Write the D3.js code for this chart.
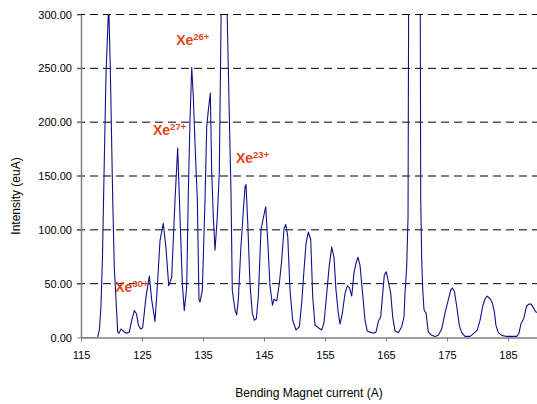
<!DOCTYPE html>
<html>
<head>
<meta charset="utf-8">
<script src="https://cdn.jsdelivr.net/npm/d3@7"></script>
<style>
  body { margin: 0; background: #fff; }
  svg { font-family: "Liberation Sans", Arial, sans-serif; }
</style>
</head>
<body>
<svg width="537" height="404"></svg>
<script>
// magnet current (A) and beam intensity (euA)
const current = [
  115.0, 117.74, 118.03, 118.28, 118.52, 118.77, 119.1, 119.54, 119.8, 120.2,
  120.46, 120.74, 121.02, 121.23, 121.56, 122.1, 122.54, 122.92, 123.28, 123.74,
  124.1, 124.39, 124.75, 125.11, 125.66, 126.2, 126.59, 127.13, 127.54, 127.95,
  128.49, 128.93, 129.38, 129.87, 130.41, 130.85, 131.23, 131.61, 131.93, 132.33,
  132.59, 132.87, 133.15, 133.41, 133.69, 134.07, 134.34, 134.51, 134.89, 135.33,
  135.61, 135.87, 136.2, 136.43, 136.69, 136.97, 137.34, 137.67, 138.03, 138.44,
  138.85, 139.26, 139.59, 139.8, 140.25, 140.52, 140.79, 141.18, 141.61, 141.89,
  142.05, 142.33, 142.7, 143.08, 143.41, 143.74, 144.07, 144.51, 144.89, 145.28,
  145.61, 145.98, 146.39, 146.64, 147.08, 147.51, 147.9, 148.28, 148.56, 148.89,
  149.26, 149.7, 150.25, 150.79, 151.18, 151.56, 151.89, 152.26, 152.66, 152.98,
  153.36, 153.9, 154.46, 154.84, 155.28, 155.7, 156.1, 156.48, 156.8, 157.18,
  157.46, 157.84, 158.28, 158.66, 158.98, 159.38, 159.75, 160.08, 160.41, 160.74,
  161.11, 161.56, 161.93, 162.38, 162.92, 163.36, 163.74, 164.13, 164.46, 164.72,
  165.05, 165.38, 165.77, 166.1, 166.48, 167.02, 167.57, 167.95, 168.11, 168.39,
  168.61, 168.85, 169.67, 170.49, 170.69, 170.85, 171.02, 171.23, 171.56, 171.93,
  172.49, 173.03, 173.57, 174.13, 174.67, 175.21, 175.61, 175.87, 176.2, 176.59,
  177.02, 177.41, 177.95, 178.77, 179.43, 179.97, 180.41, 180.85, 181.23, 181.61,
  182.05, 182.43, 182.75, 183.03, 183.41, 183.97, 184.79, 185.61, 186.43, 186.8,
  187.13, 187.57, 188.03, 188.41, 188.8, 189.13, 189.52, 189.85
];
const intensity = [
  0, 0, 8, 30, 75, 150, 245, 310, 251, 128,
  65, 35, 5, 4, 8, 5, 4, 5, 15, 25,
  22, 12, 8, 9, 38, 57, 35, 15, 50, 90,
  106, 83, 48, 56, 128, 176, 112, 50, 25, 47,
  134, 202, 251, 224, 180, 128, 35, 33, 44, 128,
  196, 211, 227, 153, 112, 81, 112, 153, 330, 345,
  330, 220, 134, 44, 25.5, 21, 35, 81, 118, 140,
  142, 107, 50, 22.6, 16, 17.5, 38, 100, 111, 121.5,
  90, 48, 30, 35.5, 34, 50, 72, 101, 105, 94,
  44, 16, 7, 10, 32, 63, 87.5, 98, 91, 38,
  11.6, 9, 7, 14, 41, 67, 84, 74, 44, 22.5,
  12.5, 22.5, 41, 48, 46.5, 38.5, 60, 69, 74.5, 67,
  44, 16, 6, 5, 4, 5, 15, 19, 41, 58,
  61, 52, 41, 19, 6, 4.5, 10, 19, 41, 66,
  112, 600, 750, 600, 128, 72, 44, 25.5, 22.6, 5,
  2, 1, 2, 8, 22.6, 35, 44, 46, 43, 29,
  11, 4.5, 1, 1, 4, 7, 16, 29, 36, 38.5,
  36, 32, 24, 11, 4.5, 2, 1, 1, 1, 4,
  13, 17.5, 29, 31, 31, 28, 24, 23
];
const xTicks = [115, 125, 135, 145, 155, 165, 175, 185];
const yTicks = [0, 50, 100, 150, 200, 250, 300];

// ion charge state labels (anchored at current / intensity)
const ionLabels = [
  { charge: "26+", x: 130.6, y: 272 },
  { charge: "27+", x: 126.8, y: 188 },
  { charge: "23+", x: 140.4, y: 162 },
  { charge: "30+", x: 120.6, y: 42 }
];

const svg = d3.select("svg");
const plotLeft = 81, plotRight = 537, plotTop = 14.5, plotBottom = 337.5;

const x = d3.scaleLinear().domain([115, 189.75]).range([plotLeft, plotRight]);
const y = d3.scaleLinear().domain([0, 300]).range([plotBottom, plotTop]);

// dashed gridlines (first dash runs through the axis like the tick)
svg.append("g")
  .selectAll("line")
  .data(yTicks.filter(d => d > 0))
  .join("line")
  .attr("x1", plotLeft - 4)
  .attr("x2", plotRight)
  .attr("y1", d => y(d))
  .attr("y2", d => y(d))
  .attr("stroke", "#000")
  .attr("stroke-width", 1)
  .attr("stroke-dasharray", "8,5");

svg.append("clipPath")
  .attr("id", "plot")
  .append("rect")
  .attr("x", plotLeft)
  .attr("y", plotTop)
  .attr("width", plotRight - plotLeft)
  .attr("height", plotBottom - plotTop);

const line = d3.line()
  .x((d, i) => x(current[i]))
  .y(d => y(d));

svg.append("path")
  .datum(intensity)
  .attr("clip-path", "url(#plot)")
  .attr("fill", "none")
  .attr("stroke", "#10108a")
  .attr("stroke-width", 1.1)
  .attr("stroke-linejoin", "round")
  .attr("d", line);

// axes
const yAxis = svg.append("g")
  .attr("transform", `translate(${plotLeft},0)`)
  .call(d3.axisLeft(y).tickValues(yTicks).tickFormat(d3.format(".2f"))
    .tickSize(4).tickSizeOuter(0).tickPadding(5));

const xAxis = svg.append("g")
  .attr("transform", `translate(0,${plotBottom})`)
  .call(d3.axisBottom(x).tickValues(xTicks).tickFormat(d3.format("d"))
    .tickSize(4).tickSizeOuter(0).tickPadding(10));

[yAxis, xAxis].forEach(g => {
  g.select(".domain").attr("stroke", "#808080").attr("stroke-width", 1.5);
  g.selectAll(".tick line").attr("stroke", "#808080");
  g.selectAll("text")
    .attr("fill", "#000")
    .style("font-size", "11px")
    .style("font-family", "Liberation Sans, Arial, sans-serif");
});

// axis titles
svg.append("text")
  .attr("transform", "translate(20,196) rotate(-90)")
  .attr("text-anchor", "middle")
  .style("font-size", "12px")
  .text("Intensity (euA)");

svg.append("text")
  .attr("x", 309)
  .attr("y", 397)
  .attr("text-anchor", "middle")
  .style("font-size", "12px")
  .text("Bending Magnet current (A)");

// ion labels
const lab = svg.append("g")
  .selectAll("text")
  .data(ionLabels)
  .join("text")
  .attr("x", d => x(d.x))
  .attr("y", d => y(d.y))
  .attr("fill", "#e0441a")
  .style("font-weight", "bold")
  .style("font-size", "14px");

lab.append("tspan").text("Xe");
lab.append("tspan")
  .attr("dy", -5)
  .style("font-size", "9.5px")
  .text(d => d.charge);
</script>
</body>
</html>
